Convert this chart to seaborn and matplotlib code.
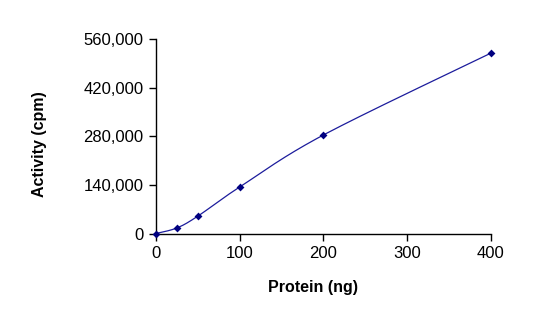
import numpy as np
import pandas as pd
import matplotlib
matplotlib.use("Agg")
import matplotlib.pyplot as plt
import seaborn as sns
from matplotlib.ticker import FuncFormatter

protein_ng = [0, 25, 50, 100, 200, 400]
activity_cpm = [0, 16000, 50000, 134000, 284000, 520000]
x_ticks = [0, 100, 200, 300, 400]
y_ticks = [0, 140000, 280000, 420000, 560000]

sns.set_theme(style="white")
plt.rcParams['font.family'] = ['Liberation Sans', 'DejaVu Sans']

df = pd.DataFrame({"Protein (ng)": protein_ng, "Activity (cpm)": activity_cpm})

# Excel-style smoothed line (Catmull-Rom Bezier through the data points)
def smooth(xs, ys, n=40):
    P = np.column_stack([xs, ys]).astype(float)
    P_ext = np.vstack([P[0], P, P[-1]])
    out = []
    for i in range(1, len(P_ext) - 2):
        p0, p1, p2, p3 = P_ext[i - 1], P_ext[i], P_ext[i + 1], P_ext[i + 2]
        c1 = p1 + (p2 - p0) / 6.0
        c2 = p2 - (p3 - p1) / 6.0
        t = np.linspace(0, 1, n)[:, None]
        seg = (1 - t) ** 3 * p1 + 3 * (1 - t) ** 2 * t * c1 + 3 * (1 - t) * t ** 2 * c2 + t ** 3 * p2
        out.append(seg if i == 1 else seg[1:])
    return np.vstack(out)

curve = smooth(protein_ng, activity_cpm)
curve_df = pd.DataFrame({"x": curve[:, 0], "y": curve[:, 1]})

fig = plt.figure(figsize=(5.34, 3.25), dpi=100)
ax = fig.add_axes([0.292, 0.2815, 0.627, 0.5975])

line_color = "#1c1c9c"
marker_color = "#000080"
sns.lineplot(data=curve_df, x="x", y="y", ax=ax, color=line_color, linewidth=0.9,
             sort=False, estimator=None)
sns.scatterplot(data=df, x="Protein (ng)", y="Activity (cpm)", ax=ax, color=marker_color,
                marker="D", s=16, edgecolor=marker_color, linewidth=0, zorder=5,
                clip_on=False)

ax.set_xlim(0, 400)
ax.set_ylim(0, 560000)
ax.set_xticks(x_ticks)
ax.set_yticks(y_ticks)
ax.yaxis.set_major_formatter(FuncFormatter(lambda v, p: f"{int(v):,}"))

for s in ["top", "right"]:
    ax.spines[s].set_visible(False)
for s in ["left", "bottom"]:
    ax.spines[s].set_color("black")
    ax.spines[s].set_linewidth(1.0)

ax.tick_params(axis="both", which="major", direction="out", length=5, width=1,
               color="black", labelsize=12, labelcolor="black", pad=4,
               left=True, bottom=True)
ax.grid(False)

ax.set_xlabel("Protein (ng)", fontsize=11.5, fontweight="bold", color="black")
ax.xaxis.set_label_coords(0.47, -0.24)
ax.set_ylabel("Activity (cpm)", fontsize=11.5, fontweight="bold", color="black")
ax.yaxis.set_label_coords(-0.325, 0.46)

fig.savefig("out.png", dpi=100, facecolor="white")
